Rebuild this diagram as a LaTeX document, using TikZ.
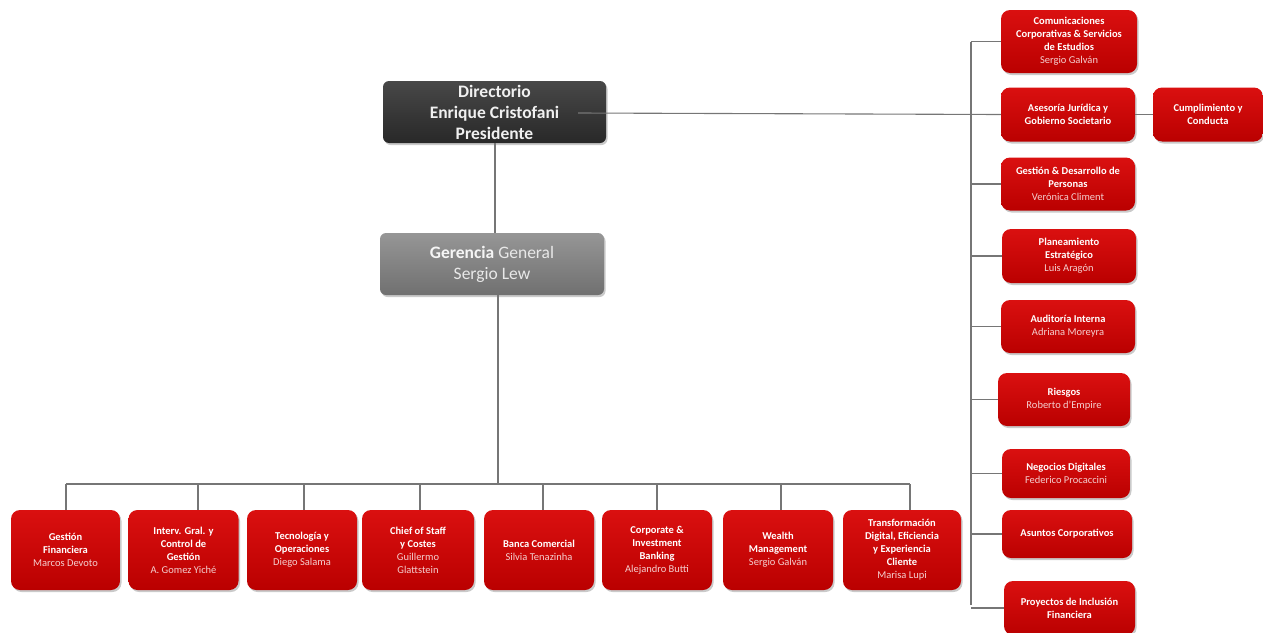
\documentclass[tikz,border=0pt]{standalone}
\usepackage{fontspec}
\setmainfont{Carlito}
\usetikzlibrary{shadows}
\definecolor{linecol}{RGB}{118,118,118}
\definecolor{redtop}{RGB}{218,16,16}
\definecolor{redbot}{RGB}{186,0,0}
\definecolor{namecol}{RGB}{244,208,208}
\definecolor{darktop}{RGB}{72,72,72}
\definecolor{darkbot}{RGB}{40,40,40}
\definecolor{graytop}{RGB}{150,150,150}
\definecolor{graybot}{RGB}{112,112,112}
\definecolor{graytxt}{RGB}{232,232,232}
\newcommand{\pn}[1]{{\mdseries\color{namecol}#1}}
\begin{document}
\begin{tikzpicture}[x=1pt,y=-1pt,
  sz/.style 2 args={minimum width=#1pt,minimum height=#2pt},
  basebox/.style={rounded corners=9pt, align=center, inner sep=2pt,
     drop shadow={shadow xshift=1.5pt,shadow yshift=-2pt,opacity=0.35,fill=black!60}},
  redbox/.style={basebox, top color=redtop, bottom color=redbot, text=white,
     font=\bfseries\fontsize{10.5}{13}\selectfont},
  dirbox/.style={basebox, rounded corners=6pt, top color=darktop, bottom color=darkbot, text=white!94!black,
     font=\bfseries\fontsize{17.5}{21}\selectfont},
  gerbox/.style={basebox, rounded corners=6pt, top color=graytop, bottom color=graybot, text=graytxt,
     font=\fontsize{17.5}{21}\selectfont},
  conn/.style={draw=linecol, line width=1.1pt}]
\useasboundingbox (0,0) rectangle (1263,632);

% top boxes
\node[dirbox, sz={223}{62}] (dir) at (494.5,112) {Directorio\\Enrique Cristofani\\Presidente};
\node[gerbox, sz={224}{62}] (ger) at (492,264) {\textbf{\color{white!96!black}Gerencia} General\\Sergio Lew};

% right column
\node[redbox, sz={136}{63}] (c1) at (1069,41.5) {Comunicaciones\\Corporativas \& Servicios\\de Estudios\\\pn{Sergio Galván}};
\node[redbox, sz={134}{54}] (c2) at (1068,114.5) {Asesoría Jurídica y\\Gobierno Societario};
\node[redbox, sz={110}{54}] (cu) at (1208,114.5) {Cumplimiento y\\Conducta};
\node[redbox, sz={134}{53}] (c3) at (1068,184) {Gestión \& Desarrollo de\\Personas\\\pn{Verónica Climent}};
\node[redbox, sz={134}{54}] (c4) at (1069,256) {Planeamiento\\Estratégico\\\pn{Luis Aragón}};
\node[redbox, sz={134}{53}] (c5) at (1068,326.5) {Auditoría Interna\\\pn{Adriana Moreyra}};
\node[redbox, sz={132}{53}] (c6) at (1064,399.5) {Riesgos\\\pn{Roberto d’Empire}};
\node[redbox, sz={128}{49}] (c7) at (1066,473.5) {Negocios Digitales\\\pn{Federico Procaccini}};
\node[redbox, sz={130}{48}] (c8) at (1067,534) {Asuntos Corporativos};
\node[redbox, sz={131}{54}] (c9) at (1069.5,608) {Proyectos de Inclusión\\Financiera};

% bottom row
\node[redbox, sz={109}{80}] (b1) at (65.5,550) {Gestión\\Financiera\\\pn{Marcos Devoto}};
\node[redbox, sz={110}{80}] (b2) at (183.5,550) {Interv. Gral. y\\Control de\\Gestión\\\pn{A. Gomez Yiché}};
\node[redbox, sz={110}{80}] (b3) at (302,550) {Tecnología y\\Operaciones\\\pn{Diego Salama}};
\node[redbox, sz={112}{80}] (b4) at (418,550) {Chief of Staff\\y Costes\\\pn{Guillermo}\\\pn{Glattstein}};
\node[redbox, sz={110}{80}] (b5) at (539,550) {Banca Comercial\\\pn{Silvia Tenazinha}};
\node[redbox, sz={110}{80}] (b6) at (657,550) {Corporate \&\\Investment\\Banking\\\pn{Alejandro Butti}};
\node[redbox, sz={110}{80}] (b7) at (778,550) {Wealth\\Management\\\pn{Sergio Galván}};
\node[redbox, sz={118}{80}] (b8) at (902,550) {Transformación\\Digital, Eficiencia\\y Experiencia\\Cliente\\\pn{Marisa Lupi}};

% connectors: top
\coordinate (dirout) at (578,113);
\draw[conn] (dir.south -| 495,0) -- (ger.north -| 495,0);
\draw[conn] (dirout) -- (c2.west);
\draw[conn] (c2.east) -- (cu.west);

% right vertical spine
\coordinate (vt) at (971,42);
\coordinate (vb) at (971,605);
\draw[conn] (vt) -- (vb);
\foreach \n in {c1,c3,c4,c5,c6,c7,c8,c9}
  \draw[conn] (\n.west -| vt) -- (\n.west);

% bottom bus
\coordinate (gdown) at (498,484);
\draw[conn] (ger.south -| gdown) -- (gdown);
\coordinate (d1) at (66,484);
\coordinate (d2) at (198,484);
\coordinate (d3) at (304,484);
\coordinate (d4) at (420,484);
\coordinate (d5) at (543,484);
\coordinate (d6) at (657,484);
\coordinate (d7) at (781,484);
\coordinate (d8) at (910,484);
\draw[conn] (d1) -- (d8);
\foreach \i in {1,...,8}
  \draw[conn] (d\i) -- (d\i |- b\i.north);
\end{tikzpicture}
\end{document}
